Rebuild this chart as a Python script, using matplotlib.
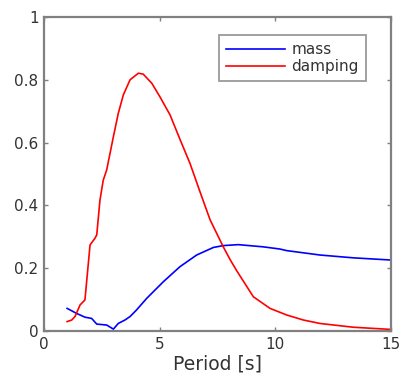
import matplotlib
matplotlib.use("Agg")
import matplotlib.pyplot as plt

mass_x = [1.0, 1.41, 1.77, 2.06, 2.28, 2.71, 3.0, 3.21, 3.5, 3.72, 4.0, 4.44,
          5.16, 5.88, 6.6, 7.32, 7.75, 8.4, 9.48, 10.2, 10.49, 11.93, 13.37, 15.0]
mass_y = [0.072, 0.056, 0.044, 0.040, 0.022, 0.019, 0.006, 0.024, 0.035, 0.046,
          0.067, 0.104, 0.157, 0.205, 0.242, 0.266, 0.272, 0.275, 0.268, 0.261,
          0.256, 0.242, 0.233, 0.226]

damp_x = [1.0, 1.2, 1.34, 1.56, 1.77, 1.99, 2.2, 2.28, 2.42, 2.56, 2.71, 3.0,
          3.21, 3.43, 3.72, 4.08, 4.29, 4.66, 5.01, 5.45, 5.88, 6.31, 6.74, 7.18,
          7.75, 8.04, 8.33, 9.05, 9.77, 10.49, 11.21, 11.93, 13.37, 15.0]
damp_y = [0.030, 0.035, 0.046, 0.083, 0.099, 0.274, 0.295, 0.306, 0.417, 0.480,
          0.513, 0.619, 0.693, 0.752, 0.800, 0.821, 0.818, 0.789, 0.746, 0.688,
          0.610, 0.534, 0.444, 0.354, 0.268, 0.228, 0.192, 0.109, 0.072, 0.051,
          0.035, 0.024, 0.012, 0.005]

xticks = [0, 5, 10, 15]
yticks = [0, 0.2, 0.4, 0.6, 0.8, 1]
ytick_labels = ["0", "0.2", "0.4", "0.6", "0.8", "1"]

plt.rcParams['font.family'] = ['DejaVu Sans']

fig = plt.figure(figsize=(4.03, 3.83), dpi=100)
ax = fig.add_axes([44/403, 52/383, 347/403, 314/383])

ax.plot(mass_x, mass_y, color='#0000ff', lw=1.2, label='mass')
ax.plot(damp_x, damp_y, color='#ff0000', lw=1.2, label='damping')

ax.set_xlim(0, 15)
ax.set_ylim(0, 1)
ax.set_xticks(xticks)
ax.set_xticklabels([str(t) for t in xticks])
ax.set_yticks(yticks)
ax.set_yticklabels(ytick_labels)

gray = '#808080'
for s in ax.spines.values():
    s.set_color(gray)
    s.set_linewidth(1.6)
ax.tick_params(direction='in', top=True, right=True, length=3, width=1,
               color=gray, labelsize=11, labelcolor='#333333', pad=4)
ax.set_xlabel('Period [s]', fontsize=13.5, color='#333333', labelpad=2)

leg = ax.legend(loc='upper left',
                bbox_to_anchor=((219 - 44) / 347, (331 - 35) / 314),
                fontsize=11, frameon=True, fancybox=False, borderaxespad=0,
                handlelength=3.9, handletextpad=0.4, borderpad=0.45,
                labelspacing=0.15)
leg.get_frame().set_edgecolor(gray)
leg.get_frame().set_linewidth(1.3)
for t in leg.get_texts():
    t.set_color('#333333')

fig.savefig('out.png', dpi=100)
